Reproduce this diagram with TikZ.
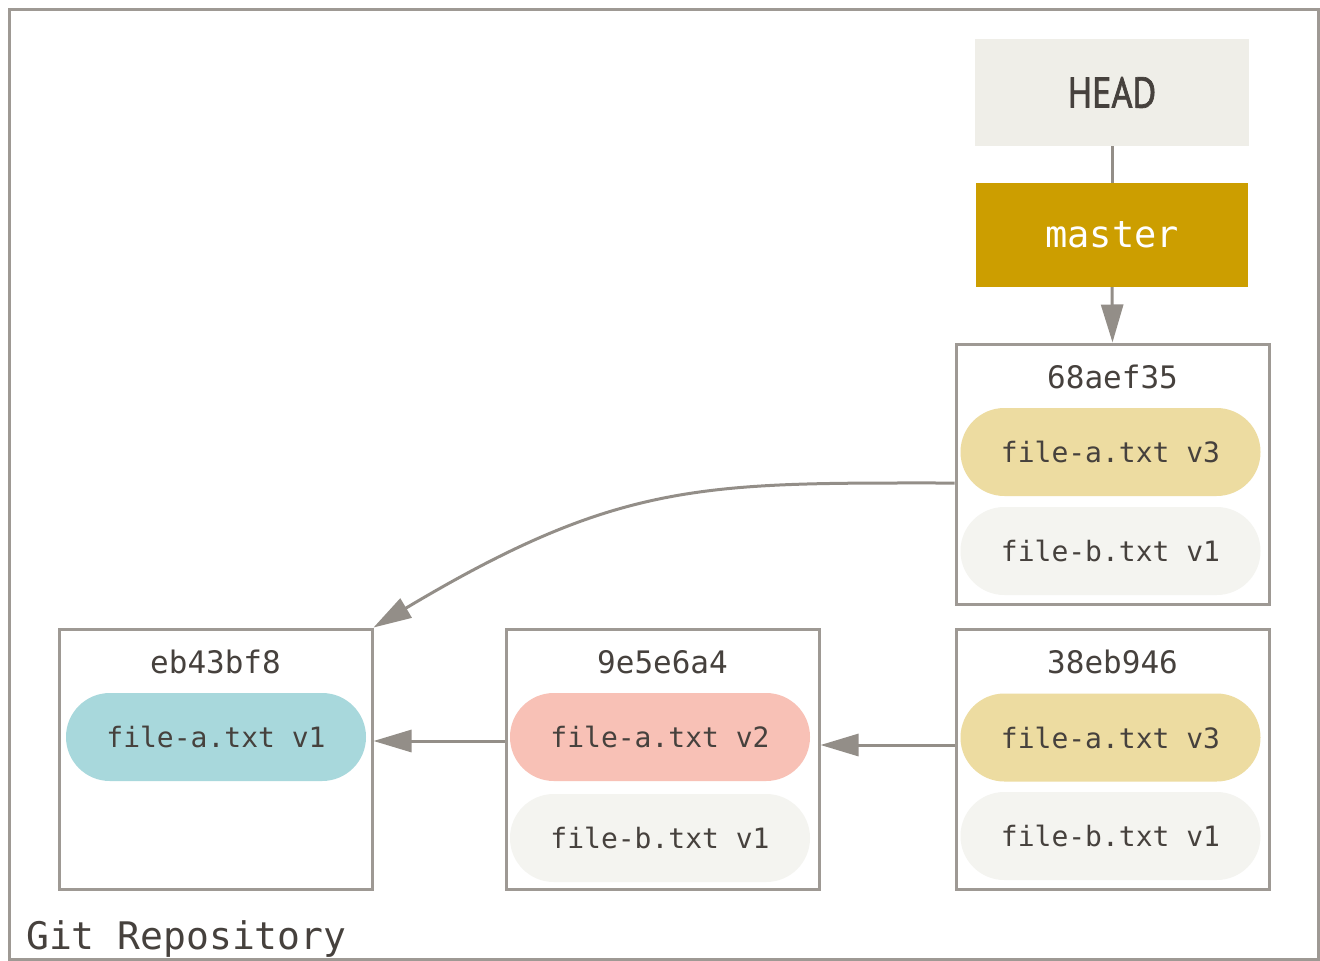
\documentclass[tikz,border=0pt]{standalone}
\usepackage{fontspec}
\usetikzlibrary{arrows.meta}
\newfontfamily\monof{DejaVu Sans Mono}
\newfontfamily\headf{PT Sans}[FakeStretch=0.84,FakeBold=1.6]
\definecolor{frame}{HTML}{9E9994}
\definecolor{conn}{HTML}{938E88}
\definecolor{txt}{HTML}{46413D}
\definecolor{headbg}{HTML}{EFEEE8}
\definecolor{gold}{HTML}{CC9E00}
\definecolor{pyellow}{HTML}{EDDCA1}
\definecolor{pgray}{HTML}{F4F4F0}
\definecolor{ppink}{HTML}{F8C1B6}
\definecolor{pblue}{HTML}{A8D8DC}
\tikzset{
  commit/.style={draw=frame, line width=3pt, fill=white, minimum width=313pt, minimum height=260pt, inner sep=0pt},
  hash/.style={font=\monof\fontsize{31}{31}\selectfont, text=txt, inner sep=0pt},
  pill/.style={rounded corners=43.9pt, minimum width=300pt, minimum height=88pt, inner sep=0pt,
     font=\monof\fontsize{28}{28}\selectfont, text=txt},
  conn/.style={draw=conn, line width=3pt},
  arr/.style={conn, -{Triangle[length=38pt,width=22pt]}},
}
\begin{document}
\begin{tikzpicture}[x=1pt,y=-1pt]
\useasboundingbox (0,0) rectangle (1320,961);
\draw[frame, line width=3pt] (9,9) rectangle (1318,959);
\node[anchor=south west, inner sep=0pt, font=\monof\fontsize{38}{38}\selectfont, text=txt] (repo) at (26,958) {Git Repository};

% HEAD and master
\node[fill=headbg, minimum width=274pt, minimum height=107pt, inner sep=0pt,
      font=\headf\fontsize{43}{43}\selectfont, text=txt] (head) at (1112,92.5) {HEAD};
\node[fill=gold, minimum width=272pt, minimum height=104pt, inner sep=0pt,
      font=\monof\fontsize{37}{37}\selectfont, text=white] (master) at (1112,235) {master};

% commits
\node[commit] (b68) at (1112.5,474) {};
\node[hash] (h68) at (1112.5,377) {68aef35};
\node[pill, fill=pyellow] (p68a) at (1110.5,452) {file-a.txt v3};
\node[pill, fill=pgray] (p68b) at (1110.5,551) {file-b.txt v1};

\node[commit] (b38) at (1112.5,759) {};
\node[hash] (h38) at (1112.5,662) {38eb946};
\node[pill, fill=pyellow] (p38a) at (1110.5,737.5) {file-a.txt v3};
\node[pill, fill=pgray] (p38b) at (1110.5,836) {file-b.txt v1};

\node[commit] (b9e) at (662.5,759) {};
\node[hash] (h9e) at (662.5,662) {9e5e6a4};
\node[pill, fill=ppink] (p9ea) at (660,737) {file-a.txt v2};
\node[pill, fill=pgray] (p9eb) at (660,838) {file-b.txt v1};

\node[commit] (beb) at (215.5,759) {};
\node[hash] (heb) at (215.5,662) {eb43bf8};
\node[pill, fill=pblue] (pweb) at (216,737) {file-a.txt v1};

% connectors
\draw[conn] (head.south) -- (master.north);
\draw[arr] (master.south) -- (b68.north);
\draw[arr] ([yshift=14pt]b38.west) -- ([yshift=14pt]b9e.east);
\draw[arr] ([yshift=18pt]b9e.west) -- ([yshift=18pt]beb.east);
\draw[arr] ([yshift=-9pt]b68.west) .. controls (706,483) and (622,479) .. (beb.north east);
\end{tikzpicture}
\end{document}
